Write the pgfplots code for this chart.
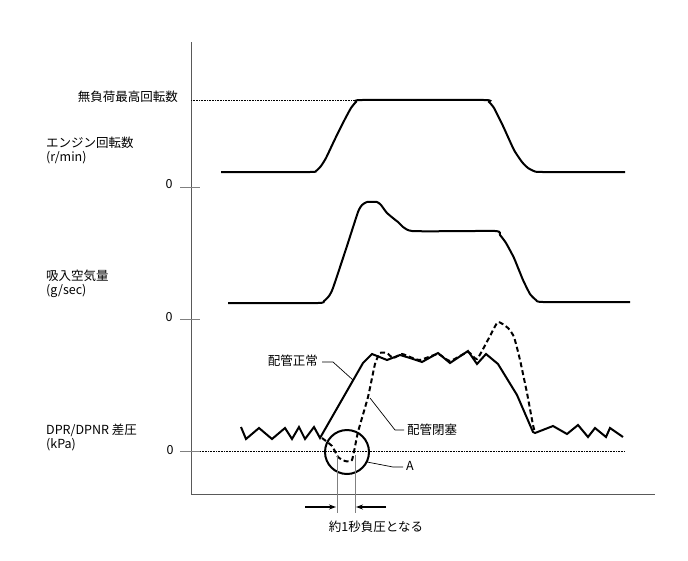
\documentclass[border=0pt]{standalone}
\usepackage{pgfplots}
\pgfplotsset{compat=1.18}
\usepackage{fontspec}
\setmainfont{Noto Sans CJK JP}
\usetikzlibrary{arrows.meta}
\newcommand\lf{\fontsize{12.5}{14}\selectfont}
\begin{document}
\begin{tikzpicture}[font=\lf]
\begin{axis}[
  width=688pt, height=560pt, scale only axis,
  xmin=0, xmax=688, ymin=0, ymax=560, y dir=reverse,
  axis lines=none, clip=false,
]
\addplot[draw=none] coordinates {(0,0) (688,560)};
% frame
\addplot[gray!70!black, line width=0.9pt] coordinates {(191,42) (191,494) (655,494)};
\addplot[gray, line width=0.9pt] coordinates {(180,187) (200,187)};
\addplot[gray, line width=0.9pt] coordinates {(180,319) (200,319)};
\addplot[gray, line width=0.9pt] coordinates {(180,451) (200,451)};
\addplot[black, densely dotted, line width=0.6pt] coordinates {(191,100) (360,100)};
\addplot[black, densely dotted, line width=0.6pt] coordinates {(200,451) (625,451)};
% engine speed
\addplot[black, line width=2pt, smooth, tension=0.3] coordinates {
 (221,172) (310,172) (316,171) (321,166) (326,158) (335,139) (345,119) (351,108) (356,102) (362,100) (484,100)
 (489,102) (494,108) (503,126) (514,150) (522,162) (528,168) (535,171.5) (543,172) (625,172)};
% air flow
\addplot[black, line width=2pt, smooth, tension=0.3] coordinates {
 (228,303) (318,303) (324,301) (329,296) (333,288) (346,249) (358,212) (362,205) (367,202) (377,202) (381,205)
 (387,213) (398,222) (412,231) (495,231) (500,235) (506,243) (514,258) (523,280) (530,294) (536,300) (543,302) (630,302)};
% DPR normal (solid)
\addplot[black, line width=2pt] coordinates {
 (241,427) (246,439) (259,428) (272,439) (285,428) (292,439) (299,427) (305,439) (314,427) (320,438)
 (363,363) (372,354) (387,360) (400,355) (410,358) (422,362) (438,353) (450,363) (468,351) (477,364)
 (486,354) (498,364) (517,395) (533,432) (535,433) (553,426) (567,434) (578,425) (588,437) (595,428)
 (606,437) (610,428) (623,437)};
% DPR clogged (dashed)
\addplot[black, line width=2pt, dash pattern=on 5pt off 3pt, smooth, tension=0.3] coordinates {
 (322,438) (332,446) (338,457) (345,461) (352,460) (358,432) (368,397) (375,364) (380,353) (387,353)
 (393,358) (402,354) (410,357) (420,360) (438,354) (450,361) (468,352) (477,359)
 (490,336) (498,322) (508,328) (514,337) (520,360) (527,393) (533,425) (535,432)};
% circle A
\draw[black, line width=2pt] (axis cs:347,452) circle[radius=22pt];
% 1 second markers
\draw[gray, line width=0.9pt] (axis cs:337,455) -- (axis cs:337,513);
\draw[gray, line width=0.9pt] (axis cs:355,455) -- (axis cs:355,513);
\draw[black, line width=1.2pt, -{Stealth[length=7pt,width=5pt]}] (axis cs:305,507) -- (axis cs:336,507);
\draw[black, line width=1.2pt, -{Stealth[length=7pt,width=5pt]}] (axis cs:386,507) -- (axis cs:356,507);
\node[font=\lf] at (axis cs:376,527) {約1秒負圧となる};
% leaders
\draw[black, line width=0.7pt] (axis cs:353,380) -- (axis cs:333,362) -- (axis cs:322,362);
\node[font=\lf, anchor=east, inner sep=1pt] at (axis cs:319,361) {配管正常};
\draw[black, line width=0.7pt] (axis cs:370,398) -- (axis cs:395,430) -- (axis cs:404,430);
\node[font=\lf, anchor=west, inner sep=1pt] at (axis cs:406,430) {配管閉塞};
\draw[black, line width=0.7pt] (axis cs:367,462) -- (axis cs:393,467) -- (axis cs:403,467);
\node[font=\lf, anchor=west, inner sep=1pt] at (axis cs:405,466) {A};
% labels
\node[font=\lf, anchor=east, inner sep=0pt] at (axis cs:178,97) {無負荷最高回転数};
\node[font=\lf, anchor=west, inner sep=0pt] at (axis cs:46,143) {エンジン回転数};
\node[font=\lf, anchor=west, inner sep=0pt] at (axis cs:46,158) {(r/min)};
\node[font=\lf, anchor=west, inner sep=0pt] at (axis cs:46,276) {吸入空気量};
\node[font=\lf, anchor=west, inner sep=0pt] at (axis cs:46,291) {(g/sec)};
\node[font=\lf, anchor=west, inner sep=0pt] at (axis cs:46,430) {DPR/DPNR 差圧};
\node[font=\lf, anchor=west, inner sep=0pt] at (axis cs:46,445) {(kPa)};
\node[font=\lf] at (axis cs:169,184) {0};
\node[font=\lf] at (axis cs:169,317) {0};
\node[font=\lf] at (axis cs:170,450) {0};
\end{axis}
\end{tikzpicture}
\end{document}
